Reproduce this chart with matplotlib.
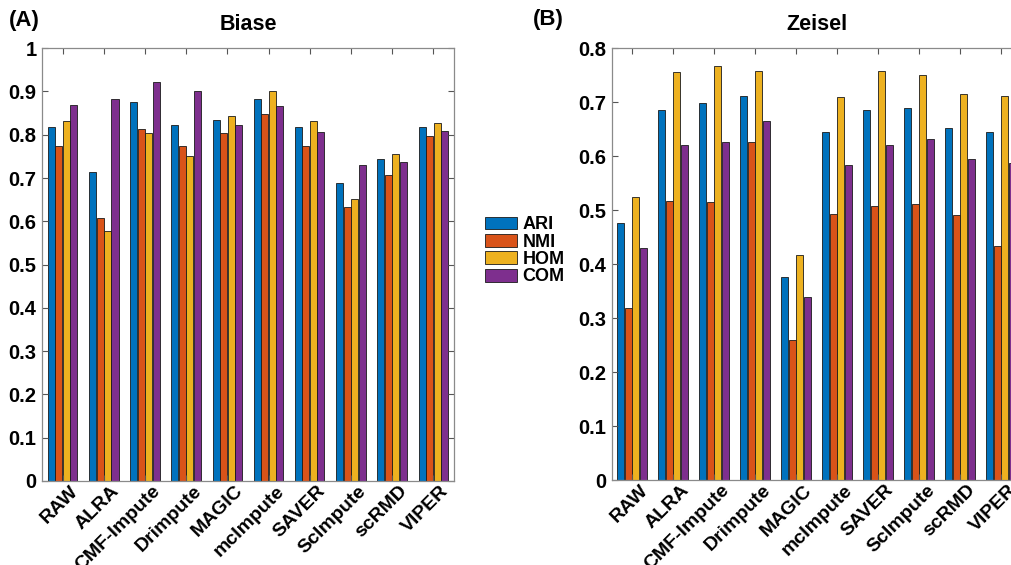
import numpy as np
import matplotlib.pyplot as plt
from matplotlib.transforms import ScaledTranslation

plt.rcParams['font.family'] = ['Liberation Sans', 'DejaVu Sans']
plt.rcParams['font.weight'] = 'bold'

methods = ['RAW', 'ALRA', 'CMF-Impute', 'Drimpute', 'MAGIC', 'mcImpute',
           'SAVER', 'ScImpute', 'scRMD', 'VIPER']
metrics = ['ARI', 'NMI', 'HOM', 'COM']
colors = ['#0072BD', '#D95319', '#EDB120', '#7E2F8E']

# Biase dataset
biase_ari = [0.819, 0.714, 0.876, 0.822, 0.834, 0.882, 0.819, 0.688, 0.745, 0.818]
biase_nmi = [0.775, 0.607, 0.813, 0.773, 0.805, 0.849, 0.775, 0.634, 0.707, 0.796]
biase_hom = [0.831, 0.578, 0.805, 0.750, 0.843, 0.901, 0.832, 0.652, 0.755, 0.828]
biase_com = [0.868, 0.882, 0.923, 0.901, 0.822, 0.866, 0.807, 0.729, 0.737, 0.808]

# Zeisel dataset
zeisel_ari = [0.476, 0.685, 0.699, 0.711, 0.377, 0.644, 0.686, 0.689, 0.653, 0.645]
zeisel_nmi = [0.319, 0.518, 0.515, 0.627, 0.260, 0.493, 0.507, 0.511, 0.491, 0.434]
zeisel_hom = [0.525, 0.756, 0.767, 0.757, 0.417, 0.710, 0.757, 0.750, 0.716, 0.711]
zeisel_com = [0.431, 0.621, 0.627, 0.665, 0.340, 0.584, 0.621, 0.632, 0.594, 0.587]

fig = plt.figure(figsize=(10.11, 5.65), dpi=100)
ax1 = fig.add_axes([0.0415, 0.1487, 0.4075, 0.766])
ax2 = fig.add_axes([0.605, 0.150, 0.4055, 0.7646])


def draw_panel(ax, series, ymax, yticks, title):
    x = np.arange(1, len(methods) + 1)
    step = 0.182
    handles = []
    for i, (vals, c) in enumerate(zip(series, colors)):
        off = (i - 1.5) * step
        h = ax.bar(x + off, vals, width=0.17, color=c, edgecolor='#1a1a1a',
                   linewidth=0.6, label=metrics[i])
        handles.append(h)
    ax.set_xlim(0.5, len(methods) + 0.5)
    ax.set_ylim(0, ymax)
    ax.set_xticks(x)
    ax.set_xticklabels(methods, rotation=45, ha='right', va='top',
                       rotation_mode='anchor', fontsize=14, fontweight='bold')
    ax.set_yticks(yticks)
    ax.set_yticklabels([('%g' % t) for t in yticks], fontsize=14.5,
                       fontweight='bold')
    ax.tick_params(direction='in', length=4, width=0.8, color='#555555',
                   top=True, right=True, pad=4)
    ax.tick_params(axis='x', pad=1.0)
    # shift the rotated labels a bit to the right, like the original
    shift = ScaledTranslation(0.07, 0, fig.dpi_scale_trans)
    for lab in ax.get_xticklabels():
        lab.set_transform(lab.get_transform() + shift)
    for s in ax.spines.values():
        s.set_color('#8a8a8a')
        s.set_linewidth(0.9)
    ax.set_title(title, fontsize=15.5, fontweight='bold', pad=13)
    return handles


h = draw_panel(ax1, [biase_ari, biase_nmi, biase_hom, biase_com], 1.0,
               np.round(np.arange(0, 1.01, 0.1), 1), 'Biase')
draw_panel(ax2, [zeisel_ari, zeisel_nmi, zeisel_hom, zeisel_com], 0.8,
           np.round(np.arange(0, 0.81, 0.1), 1), 'Zeisel')

fig.legend(h, metrics, loc='center left', bbox_to_anchor=(0.4705, 0.556),
           frameon=False, handlelength=1.78, handleheight=0.72,
           handletextpad=0.3, labelspacing=0.02, borderpad=0,
           prop={'weight': 'bold', 'size': 13})

fig.text(0.009, 0.954, '(A)', fontsize=16, fontweight='bold')
fig.text(0.527, 0.956, '(B)', fontsize=16, fontweight='bold')

fig.savefig('out.png', dpi=100)
